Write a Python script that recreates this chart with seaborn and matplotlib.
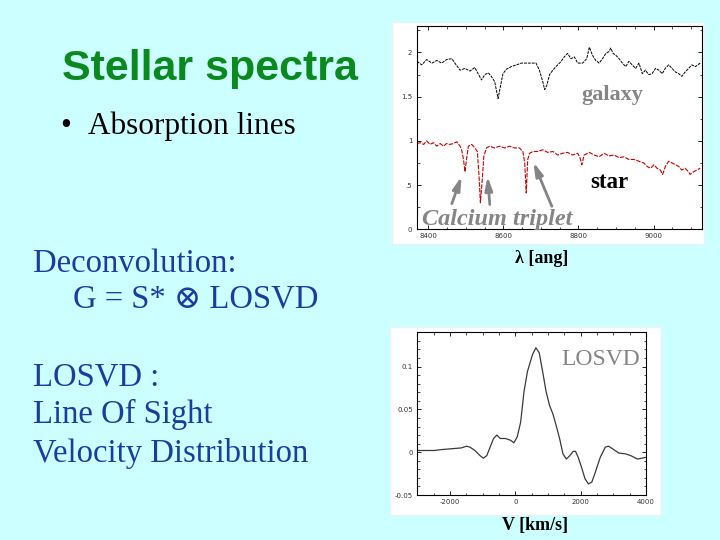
import matplotlib
matplotlib.use("Agg")
import matplotlib.pyplot as plt
import seaborn as sns
from matplotlib.patches import Rectangle
from matplotlib.ticker import MultipleLocator

plt.rcParams['axes.unicode_minus'] = False  # plain hyphen on tick labels like the slide

# --- data ---
# galaxy spectrum (top, black)
wave_gal = [8370, 8383, 8396, 8410, 8423, 8436, 8449, 8463, 8471, 8485,
            8498, 8511, 8524, 8533, 8542, 8551, 8560, 8568, 8577, 8586,
            8592, 8599, 8608, 8621, 8635, 8648, 8661, 8674, 8687, 8696,
            8705, 8710, 8716, 8723, 8732, 8740, 8754, 8762, 8771, 8780,
            8789, 8798, 8811, 8822, 8829, 8837, 8846, 8855, 8864, 8873,
            8881, 8886, 8892, 8899, 8908, 8917, 8926, 8934, 8943, 8952,
            8961, 8970, 8978, 8987, 8996, 9005, 9014, 9023, 9031, 9040,
            9049, 9058, 9067, 9075, 9084, 9093, 9102, 9111, 9124]
flux_gal = [1.90, 1.86, 1.92, 1.88, 1.91, 1.88, 1.92, 1.93, 1.88, 1.80,
            1.82, 1.79, 1.83, 1.76, 1.69, 1.75, 1.77, 1.73, 1.67, 1.48,
            1.61, 1.76, 1.81, 1.84, 1.86, 1.88, 1.88, 1.88, 1.88, 1.80,
            1.67, 1.58, 1.63, 1.75, 1.80, 1.84, 1.90, 1.95, 1.99, 1.93,
            1.95, 1.88, 1.88, 1.93, 2.06, 1.97, 1.91, 1.88, 1.93, 1.99,
            2.01, 2.05, 1.99, 1.97, 1.93, 1.88, 1.84, 1.90, 1.86, 1.82,
            1.88, 1.76, 1.80, 1.75, 1.76, 1.82, 1.80, 1.76, 1.82, 1.86,
            1.82, 1.78, 1.76, 1.73, 1.78, 1.82, 1.86, 1.84, 1.88]

# stellar template (red)
wave_star = [8370, 8379, 8388, 8396, 8405, 8414, 8423, 8432, 8441, 8449,
             8458, 8467, 8476, 8485, 8489, 8494, 8498, 8502, 8507, 8516,
             8524, 8531, 8536, 8539, 8544, 8548, 8555, 8564, 8577, 8590,
             8604, 8617, 8630, 8643, 8652, 8657, 8661, 8665, 8670, 8679,
             8692, 8705, 8718, 8732, 8745, 8758, 8771, 8784, 8798, 8804,
             8809, 8815, 8829, 8842, 8855, 8868, 8881, 8895, 8908, 8921,
             8934, 8948, 8961, 8974, 8983, 8992, 9001, 9009, 9018, 9024,
             9031, 9040, 9049, 9058, 9067, 9075, 9084, 9093, 9097, 9106,
             9115, 9124]
flux_star = [0.97, 0.98, 0.96, 1.00, 0.96, 0.98, 0.94, 0.97, 0.94, 0.97,
             0.96, 0.97, 0.99, 0.94, 0.90, 0.79, 0.65, 0.79, 0.94, 0.96,
             0.92, 0.88, 0.56, 0.30, 0.56, 0.82, 0.92, 0.94, 0.92, 0.94,
             0.92, 0.94, 0.92, 0.92, 0.88, 0.75, 0.41, 0.79, 0.86, 0.88,
             0.88, 0.90, 0.87, 0.88, 0.84, 0.86, 0.87, 0.84, 0.86, 0.81,
             0.73, 0.84, 0.87, 0.84, 0.82, 0.86, 0.83, 0.84, 0.81, 0.82,
             0.79, 0.79, 0.77, 0.75, 0.71, 0.69, 0.73, 0.69, 0.67, 0.62,
             0.71, 0.77, 0.75, 0.73, 0.71, 0.67, 0.69, 0.65, 0.62, 0.65,
             0.67, 0.69]

# line of sight velocity distribution
vel = [-3000, -2481, -2274, -1963, -1652, -1496, -1393, -1237, -1081, -978,
       -874, -770, -667, -563, -459, -304, -148, -44, 59, 163,
       267, 370, 526, 630, 733, 837, 941, 1044, 1148, 1252,
       1355, 1459, 1563, 1667, 1770, 1843, 1926, 2030, 2133, 2237,
       2341, 2444, 2600, 2756, 2859, 3015, 3170, 3378, 3533, 3741, 4000]
losvd = [0.002, 0.002, 0.003, 0.004, 0.005, 0.007, 0.006, 0.002, -0.004, -0.007,
         -0.004, 0.006, 0.016, 0.020, 0.016, 0.016, 0.014, 0.011, 0.018, 0.035,
         0.071, 0.094, 0.114, 0.122, 0.116, 0.094, 0.071, 0.055, 0.045, 0.031,
         0.016, -0.002, -0.008, -0.004, 0.001, 0.001, -0.006, -0.018, -0.031, -0.037,
         -0.035, -0.024, -0.006, 0.006, 0.007, 0.003, -0.001, -0.002, -0.004, -0.008, -0.006]

bg = "#ccffff"
blue = "#1e3ca0"
grey = "#858585"
serif = ["Liberation Serif", "DejaVu Serif"]

fig = plt.figure(figsize=(7.2, 5.4), dpi=100, facecolor=bg)

# white boxes behind the two plots
for box in ([0.5444, 0.5481, 0.4333, 0.4111], [0.5417, 0.0463, 0.3764, 0.3481]):
    fig.patches.append(Rectangle((box[0], box[1]), box[2], box[3],
                                 transform=fig.transFigure, facecolor="white",
                                 edgecolor="#e8f4f4", lw=1, zorder=-5))

def style_axes(ax):
    ax.set_facecolor("white")
    for s in ax.spines.values():
        s.set_linewidth(0.8)
    ax.tick_params(which="both", direction="in", top=True, right=True,
                   labelsize=5, colors="black", labelcolor="#333333", pad=3)
    ax.tick_params(which="major", length=3, width=0.6)
    ax.tick_params(which="minor", length=1.8, width=0.5)
    ax.set_xlabel("")
    ax.set_ylabel("")

# --- top: spectra ---
ax1 = fig.add_axes([0.5785, 0.5754, 0.3961, 0.3765], zorder=2)
sns.lineplot(x=wave_gal, y=flux_gal, ax=ax1, color="black", lw=0.7,
             linestyle=(0, (3, 1)))
sns.lineplot(x=wave_star, y=flux_star, ax=ax1, color="#c80000", lw=0.8,
             linestyle=(0, (4, 1.2)))
ax1.set_xlim(8369, 9128)
ax1.set_ylim(0, 2.3)
ax1.set_xticks([8400, 8600, 8800, 9000])
ax1.set_yticks([0, 0.5, 1, 1.5, 2])
ax1.set_yticklabels(["0", ".5", "1", "1.5", "2"])
ax1.xaxis.set_minor_locator(MultipleLocator(50))
ax1.yaxis.set_minor_locator(MultipleLocator(0.25))
style_axes(ax1)

arrows = [((8463, 0.29), (8489, 0.60)),
          ((8564, 0.28), (8558, 0.60)),
          ((8729, 0.26), (8680, 0.76))]
for tail, tip in arrows:
    ax1.annotate("", xy=tip, xytext=tail, annotation_clip=False,
                 arrowprops=dict(arrowstyle="-|>,head_length=0.8,head_width=0.22",
                                 color=grey, lw=2.0, shrinkA=0, shrinkB=0))

# --- bottom: LOSVD ---
ax2 = fig.add_axes([0.5796, 0.0833, 0.3176, 0.3013], zorder=2)
sns.lineplot(x=vel, y=losvd, ax=ax2, color="#3a3a3a", lw=0.9)
ax2.set_xlim(-3000, 4000)
ax2.set_ylim(-0.05, 0.14)
ax2.set_xticks([-2000, 0, 2000, 4000])
ax2.set_yticks([-0.05, 0, 0.05, 0.1])
ax2.set_yticklabels(["-0.05", "0", "0.05", "0.1"])
ax2.xaxis.set_minor_locator(MultipleLocator(500))
ax2.yaxis.set_minor_locator(MultipleLocator(0.01))
style_axes(ax2)

# --- slide texts ---
fig.text(62 / 720, 1 - 80 / 540, "Stellar spectra", family=["Liberation Sans", "DejaVu Sans"],
         fontsize=31, fontweight="bold", color="#0a8a1e", va="baseline")
fig.text(60 / 720, 1 - 134 / 540, "•", family=serif, fontsize=22.5, va="baseline")
fig.text(88 / 720, 1 - 134 / 540, "Absorption lines", family=serif, fontsize=22.5,
         va="baseline")

left_lines = [(33, 272, "Deconvolution:"),
              (73, 308, "G = S* \u2297 LOSVD"),
              (33, 386, "LOSVD :"),
              (33, 423, "Line Of Sight"),
              (33, 462, "Velocity Distribution")]
for x, y, s in left_lines:
    fig.text(x / 720, 1 - y / 540, s, family=serif, fontsize=23.5, color=blue,
             va="baseline")

fig.text(612 / 720, 1 - 100 / 540, "galaxy", family=serif, fontsize=16,
         fontweight="bold", color=grey, ha="center", va="baseline", zorder=5)
fig.text(609 / 720, 1 - 188 / 540, "star", family=serif, fontsize=16.5,
         fontweight="bold", color="black", ha="center", va="baseline", zorder=5)
fig.text(422 / 720, 1 - 225 / 540, "Calcium triplet", family=serif, fontsize=17.5,
         fontweight="bold", style="italic", color=grey, va="baseline", zorder=5)
fig.text(601 / 720, 1 - 365 / 540, "LOSVD", family=serif, fontsize=17,
         color=grey, ha="center", va="baseline", zorder=5)
fig.text(542 / 720, 1 - 263 / 540, "λ [ang]", family=serif, fontsize=13,
         fontweight="bold", ha="center", va="baseline")
fig.text(535 / 720, 1 - 530 / 540, "V [km/s]", family=serif, fontsize=13,
         fontweight="bold", ha="center", va="baseline")

fig.savefig("out.png", dpi=100, facecolor=bg)
